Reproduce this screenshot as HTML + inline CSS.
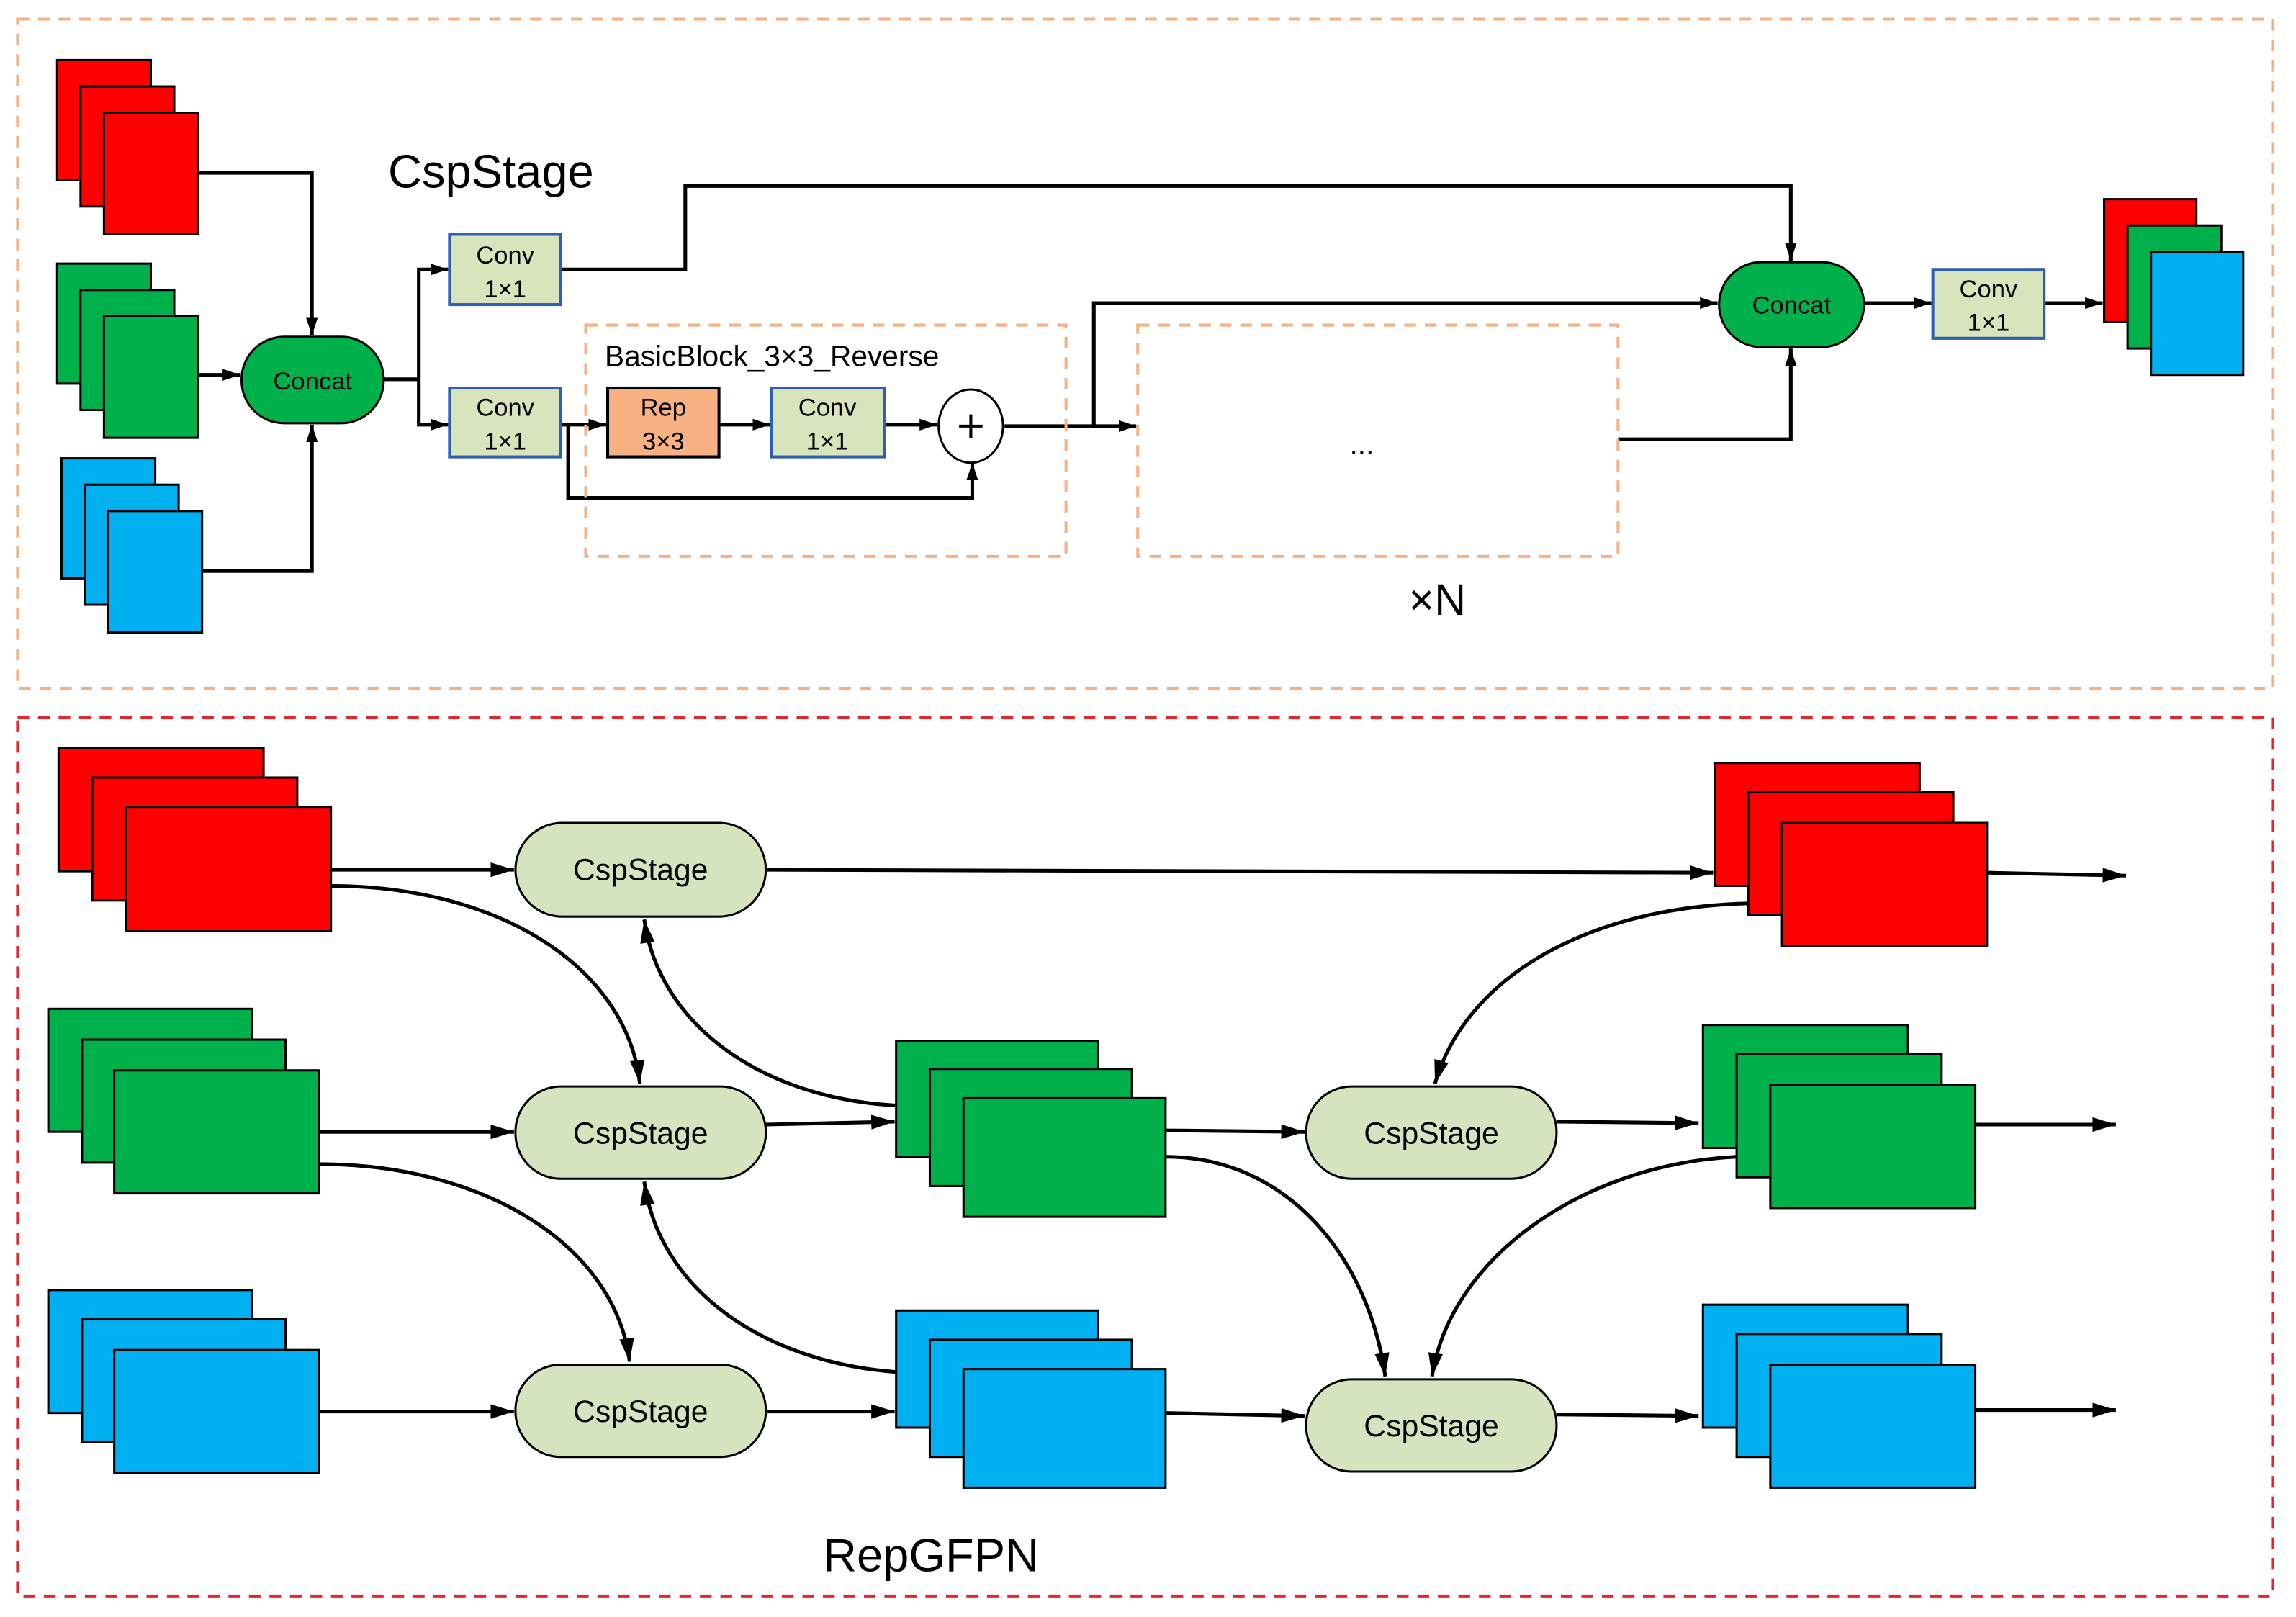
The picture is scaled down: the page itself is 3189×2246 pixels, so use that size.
<!DOCTYPE html>
<html><head><meta charset="utf-8"><style>html,body{margin:0;padding:0;background:#fff}svg{display:block}</style></head>
<body>
<svg width="3189" height="2246" viewBox="0 0 1568 1104.3" xmlns="http://www.w3.org/2000/svg" font-family="Liberation Sans, Arial, sans-serif">
<defs>
<marker id="a" viewBox="0 0 12 8" refX="12" refY="4" markerWidth="12" markerHeight="8" markerUnits="userSpaceOnUse" orient="auto"><path d="M0,0 L12,4 L0,8 z" fill="#000"/></marker>
<marker id="b" viewBox="0 0 16 10" refX="16" refY="5" markerWidth="16" markerHeight="10" markerUnits="userSpaceOnUse" orient="auto"><path d="M0,0 L16,5 L0,10 z" fill="#000"/></marker>
</defs>
<rect width="1568" height="1105" fill="#fff"/>
<rect x="12" y="13" width="1540" height="457" fill="none" stroke="#f4b183" stroke-width="2" stroke-dasharray="8,6"/>
<rect x="12" y="490" width="1540" height="600" fill="none" stroke="#e8242a" stroke-width="2" stroke-dasharray="8,6"/>

<g stroke="#000" stroke-width="1.5">
<rect x="39" y="41" width="64" height="82" fill="#ff0000"/><rect x="55" y="59" width="64" height="82" fill="#ff0000"/><rect x="71" y="77" width="64" height="83" fill="#ff0000"/>
<rect x="39" y="180" width="64" height="82" fill="#00b04a"/><rect x="55" y="198" width="64" height="82" fill="#00b04a"/><rect x="71" y="216" width="64" height="83" fill="#00b04a"/>
<rect x="42" y="313" width="64" height="82" fill="#00b0f0"/><rect x="58" y="331" width="64" height="82" fill="#00b0f0"/><rect x="74" y="349" width="64" height="83" fill="#00b0f0"/>
<rect x="1437" y="136" width="63" height="84" fill="#ff0000"/><rect x="1453" y="154" width="64" height="84" fill="#00b04a"/><rect x="1469" y="172" width="63" height="84" fill="#00b0f0"/>
</g>

<g fill="none" stroke="#000" stroke-width="2.5">
<path d="M135,118 H213 V229" marker-end="url(#a)"/>
<path d="M135,256 H164" marker-end="url(#a)"/>
<path d="M138,390 H213 V290" marker-end="url(#a)"/>
<path d="M262,259 H286"/><path d="M286,259 V184 H306" marker-end="url(#a)"/><path d="M286,259 V290 H306" marker-end="url(#a)"/>
<path d="M383,184 H468 V127 H1223 V178" marker-end="url(#a)"/>
<path d="M383,290 H414" marker-end="url(#a)"/>
<path d="M388,290 V340 H664 V316" marker-end="url(#a)"/>
<path d="M491,290 H526" marker-end="url(#a)"/>
<path d="M604,290 H640" marker-end="url(#a)"/>
<path d="M686,291 H776" marker-end="url(#a)"/>
<path d="M747,291 V207 H1173" marker-end="url(#a)"/>
<path d="M1105,300 H1223 V238" marker-end="url(#a)"/>
<path d="M1273,207 H1319" marker-end="url(#a)"/>
<path d="M1396,207 H1436" marker-end="url(#a)"/>
</g>

<rect x="400" y="222" width="328" height="158" fill="none" stroke="#f4b183" stroke-width="2" stroke-dasharray="8,6"/>
<rect x="777" y="222" width="328" height="158" fill="none" stroke="#f4b183" stroke-width="2" stroke-dasharray="8,6"/>

<rect x="165" y="230" width="97" height="59" rx="29" fill="#00b04a" stroke="#000" stroke-width="1.5"/>
<text x="213.5" y="266" font-size="17" text-anchor="middle">Concat</text>
<rect x="1174" y="179" width="99" height="58" rx="29" fill="#00b04a" stroke="#000" stroke-width="1.5"/>
<text x="1223.5" y="214" font-size="17" text-anchor="middle">Concat</text>

<g stroke="#2e5fb0" stroke-width="2" fill="#d8e4bc">
<rect x="307" y="160" width="76" height="48"/><rect x="307" y="265" width="76" height="47"/><rect x="527" y="265" width="77" height="47"/><rect x="1320" y="184" width="76" height="47"/>
</g>
<rect x="415" y="265" width="76" height="47" fill="#f8b183" stroke="#000" stroke-width="2"/>
<g font-size="17" text-anchor="middle">
<text x="345" y="180">Conv</text><text x="345" y="203">1×1</text>
<text x="345" y="284">Conv</text><text x="345" y="307">1×1</text>
<text x="565" y="284">Conv</text><text x="565" y="307">1×1</text>
<text x="1358" y="203">Conv</text><text x="1358" y="226">1×1</text>
<text x="453" y="284">Rep</text><text x="453" y="307">3×3</text>
</g>
<ellipse cx="663" cy="291" rx="22" ry="25" fill="#fff" stroke="#000" stroke-width="1.5"/>
<path d="M655,291 H671 M663,283 V299" stroke="#000" stroke-width="2"/>
<text x="413" y="250" font-size="20">BasicBlock_3×3_Reverse</text>
<text x="930" y="310" font-size="20" text-anchor="middle">...</text>
<text x="265" y="128" font-size="32">CspStage</text>
<text x="962" y="420" font-size="30">×N</text>

<!-- bottom -->
<g stroke="#000" stroke-width="1.5">
<rect x="40" y="511" width="140" height="84" fill="#ff0000"/><rect x="63" y="531" width="140" height="84" fill="#ff0000"/><rect x="86" y="551" width="140" height="85" fill="#ff0000"/>
<rect x="33" y="689" width="139" height="84" fill="#00b04a"/><rect x="56" y="710" width="139" height="84" fill="#00b04a"/><rect x="78" y="731" width="140" height="84" fill="#00b04a"/>
<rect x="33" y="881" width="139" height="84" fill="#00b0f0"/><rect x="56" y="901" width="139" height="84" fill="#00b0f0"/><rect x="78" y="922" width="140" height="84" fill="#00b0f0"/>
<rect x="612" y="711" width="138" height="79" fill="#00b04a"/><rect x="635" y="730" width="138" height="80" fill="#00b04a"/><rect x="658" y="750" width="138" height="81" fill="#00b04a"/>
<rect x="612" y="895" width="138" height="80" fill="#00b0f0"/><rect x="635" y="915" width="138" height="80" fill="#00b0f0"/><rect x="658" y="935" width="138" height="81" fill="#00b0f0"/>
<rect x="1171" y="521" width="140" height="84" fill="#ff0000"/><rect x="1194" y="541" width="140" height="84" fill="#ff0000"/><rect x="1217" y="562" width="140" height="84" fill="#ff0000"/>
<rect x="1163" y="700" width="140" height="84" fill="#00b04a"/><rect x="1186" y="720" width="140" height="84" fill="#00b04a"/><rect x="1209" y="741" width="140" height="84" fill="#00b04a"/>
<rect x="1163" y="891" width="140" height="84" fill="#00b0f0"/><rect x="1186" y="911" width="140" height="84" fill="#00b0f0"/><rect x="1209" y="932" width="140" height="84" fill="#00b0f0"/>
</g>

<g fill="none" stroke="#000" stroke-width="2.5">
<path d="M226,594 H351" marker-end="url(#b)"/>
<path d="M523,594 L1170,596" marker-end="url(#b)"/>
<path d="M1357,596 L1452,598" marker-end="url(#b)"/>
<path d="M226,605 C340,605 428,660 437,740" marker-end="url(#b)"/>
<path d="M218,773 L351,773" marker-end="url(#b)"/>
<path d="M218,795 C330,795 420,850 430,930" marker-end="url(#b)"/>
<path d="M523,768 L611,766" marker-end="url(#b)"/>
<path d="M612,755 C520,750 450,700 440,628" marker-end="url(#b)"/>
<path d="M796,772 L891,773" marker-end="url(#b)"/>
<path d="M796,790 C880,790 935,860 946,940" marker-end="url(#b)"/>
<path d="M218,964 H351" marker-end="url(#b)"/>
<path d="M523,964 H611" marker-end="url(#b)"/>
<path d="M612,937 C520,930 450,880 440,807" marker-end="url(#b)"/>
<path d="M796,965 L891,967" marker-end="url(#b)"/>
<path d="M1193,617 C1080,620 1000,670 980,740" marker-end="url(#b)"/>
<path d="M1063,766 L1160,767" marker-end="url(#b)"/>
<path d="M1349,768 L1445,768" marker-end="url(#b)"/>
<path d="M1186,790 C1080,795 990,860 978,940" marker-end="url(#b)"/>
<path d="M1063,966 L1160,967" marker-end="url(#b)"/>
<path d="M1349,963 L1445,963" marker-end="url(#b)"/>
</g>

<g fill="#d6e3bf" stroke="#000" stroke-width="1.5">
<rect x="352" y="562" width="171" height="64" rx="32"/><rect x="352" y="742" width="171" height="63" rx="31"/><rect x="352" y="932" width="171" height="63" rx="31"/>
<rect x="892" y="742" width="171" height="63" rx="31"/><rect x="892" y="942" width="171" height="63" rx="31"/>
</g>
<g font-size="21" text-anchor="middle">
<text x="437.5" y="601">CspStage</text><text x="437.5" y="781">CspStage</text><text x="437.5" y="971">CspStage</text>
<text x="977.5" y="781">CspStage</text><text x="977.5" y="981">CspStage</text>
</g>
<text x="562" y="1073" font-size="32">RepGFPN</text>
</svg>
</body></html>
